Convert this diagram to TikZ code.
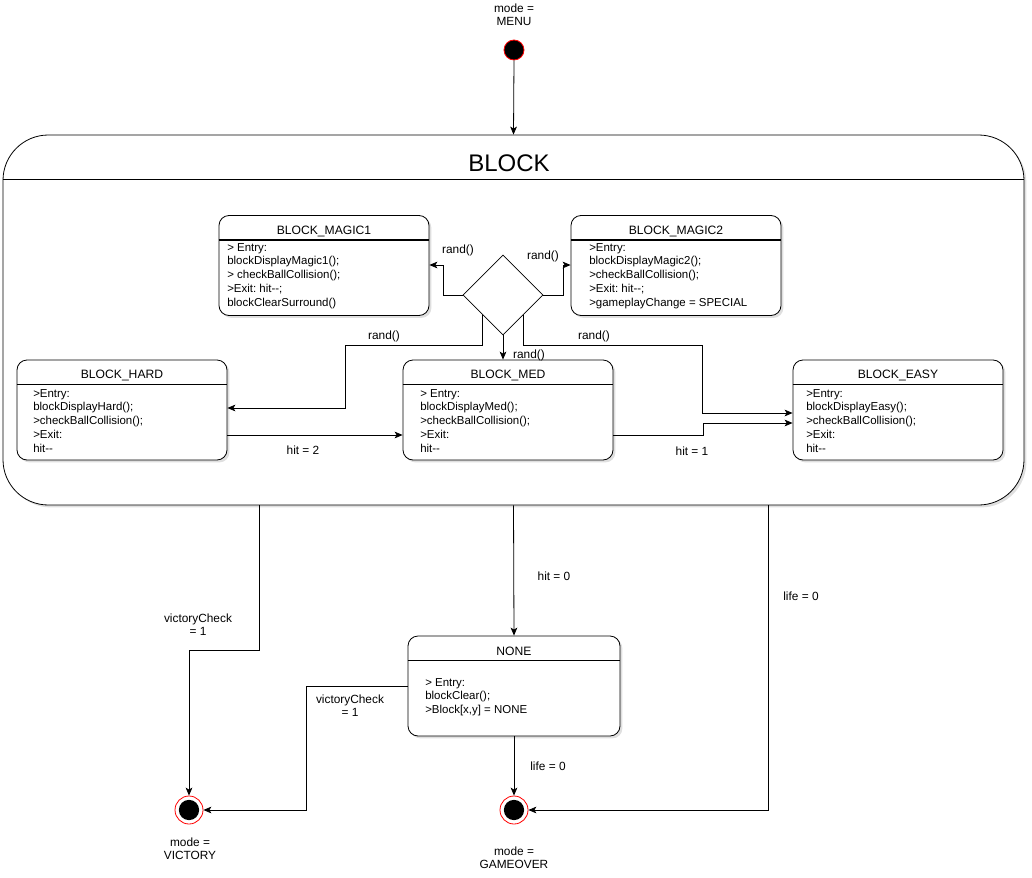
\documentclass[tikz,border=0pt]{standalone}
\usepackage{fontspec}
\setmainfont{Liberation Sans}
\frenchspacing
\usetikzlibrary{arrows.meta,shapes.geometric,calc,shadows}
\begin{document}
\begin{tikzpicture}[x=0.75pt,y=-0.75pt,
  every node/.style={font=\fontsize{8.6}{10.3}\selectfont},
  arr/.style={-{Stealth[length=6pt,width=5pt,inset=1.5pt]},line width=0.6pt},
  shad/.style={drop shadow={shadow xshift=1.8pt,shadow yshift=-1.8pt,opacity=0.25,fill=gray}},
  statebox/.style={draw,line width=0.6pt,rounded corners=7.5pt,fill=white,shad,minimum width=157.5pt,minimum height=75pt,inner sep=0pt},
  boxtext/.style={anchor=north west,align=left,inner sep=0pt},
  titletext/.style={font=\fontsize{9.1}{11}\selectfont},
  lbl/.style={align=center,inner sep=1pt,font=\fontsize{8.9}{10}\selectfont},
  sep/.style={line width=1.3pt},
  startst/.style={circle,fill=black,draw=red,line width=0.6pt,minimum size=15pt,inner sep=0pt},
  endst/.style={circle,draw=red,fill=white,line width=0.6pt,minimum size=21pt,inner sep=0pt,
    path picture={\fill[black] (path picture bounding box.center) circle (7.6pt);}}
]
\useasboundingbox (0,0) rectangle (1032,878);

% initial state
\node[lbl] (menul) at (514,15) {mode =\\MENU};
\node[startst] (start) at (514,50) {};

% container
\node[draw,line width=0.6pt,rounded corners=34pt,fill=white,shad,minimum width=765.75pt,minimum height=277.5pt,inner sep=0pt] (block) at (513.5,320) {};
\node[font=\fontsize{18}{20}\selectfont] (blockt) at (509,163) {BLOCK};
\draw[sep] ($(block.north west)+(0,45)$) -- ($(block.north east)+(0,45)$);

% states
\node[statebox] (m1) at (324,265.5) {};
\node[statebox] (m2) at (676,265.5) {};
\node[statebox] (hard) at (122,410) {};
\node[statebox] (med) at (508,410) {};
\node[statebox] (easy) at (898,410) {};
\node[statebox,minimum width=159pt] (none) at (514,686) {};

\foreach \b/\t in {m1/BLOCK\_MAGIC1, m2/BLOCK\_MAGIC2, hard/BLOCK\_HARD, med/BLOCK\_MED, easy/BLOCK\_EASY, none/NONE}{
  \node[titletext] (\b-t) at ($(\b.north)+(0,16)$) {\t};
  \draw[sep] ($(\b.north west)+(0,25)$) -- ($(\b.north east)+(0,25)$);
}

\node[boxtext] (m1x) at (227,243) {> Entry:\\blockDisplayMagic1();\\> checkBallCollision();\\>Exit: hit-{}-;\\blockClearSurround()};
\node[boxtext] (m2x) at (589,243) {>Entry:\\blockDisplayMagic2();\\>checkBallCollision();\\>Exit: hit-{}-;\\>gameplayChange = SPECIAL};
\node[boxtext] (hardx) at (33,389) {>Entry:\\blockDisplayHard();\\>checkBallCollision();\\>Exit:\\hit-{}-};
\node[boxtext] (medx) at (420,389) {> Entry:\\blockDisplayMed();\\>checkBallCollision();\\>Exit:\\hit-{}-};
\node[boxtext] (easyx) at (806,389) {>Entry:\\blockDisplayEasy();\\>checkBallCollision();\\>Exit:\\hit-{}-};
\node[boxtext] (nonex) at (425,678) {> Entry:\\blockClear();\\>Block[x,y] = NONE};

% choice
\node[diamond,draw,line width=0.6pt,fill=white,minimum width=60pt,minimum height=60pt,inner sep=0pt,aspect=1] (dia) at (503,295) {};

% final states
\node[endst] (vic) at (189,810) {};
\node[endst] (go) at (514,810) {};
\node[lbl] (vicl) at (190,849) {mode =\\VICTORY};
\node[lbl] (gol) at (514,858) {mode =\\GAMEOVER};

% connectors
\draw[arr] (start.south) -- (block.north);
\draw[arr] (dia.west) -| (443,265) -- (m1.east |- 0,265);
\draw[arr] (dia.east) -| (563,265) -- (m2.west |- 0,265);
\draw[arr] (dia.south west) |- (345,345) |- (hard.east |- 0,408);
\draw[arr] (dia.south east) |- (702,345) |- (easy.west |- 0,413);
\draw[arr] (dia.south) -- (dia.south |- med.north);
\draw[arr] (hard.east |- 0,435) -- (med.west |- 0,435);
\draw[arr] (med.east |- 0,435) -| (703,423) -- (easy.west |- 0,423);

\draw[arr] (block.south -| 259,0) -- (259,650) -| (vic.north);
\draw[arr] (block.south) -- (none.north);
\draw[arr] (block.south -| 768,0) |- (go.east);
\draw[arr] (none.west |- 0,686) -| (306,810) -- (vic.east);
\draw[arr] (none.south) -- (go.north);

% labels
\node[lbl] (r1) at (458,250) {rand()};
\node[lbl] (r2) at (543,256) {rand()};
\node[lbl] (r3) at (384,336) {rand()};
\node[lbl] (r4) at (594,336) {rand()};
\node[lbl] (r5) at (529,355) {rand()};
\node[lbl] (h2) at (303,450) {hit = 2};
\node[lbl] (h1) at (692,451) {hit = 1};
\node[lbl] (h0) at (554,576) {hit = 0};
\node[lbl] (l0a) at (801,596) {life = 0};
\node[lbl] (vc1) at (198,625) {victoryCheck\\= 1};
\node[lbl] (vc2) at (350,706) {victoryCheck\\= 1};
\node[lbl] (l0b) at (548,766) {life = 0};
\end{tikzpicture}
\end{document}
